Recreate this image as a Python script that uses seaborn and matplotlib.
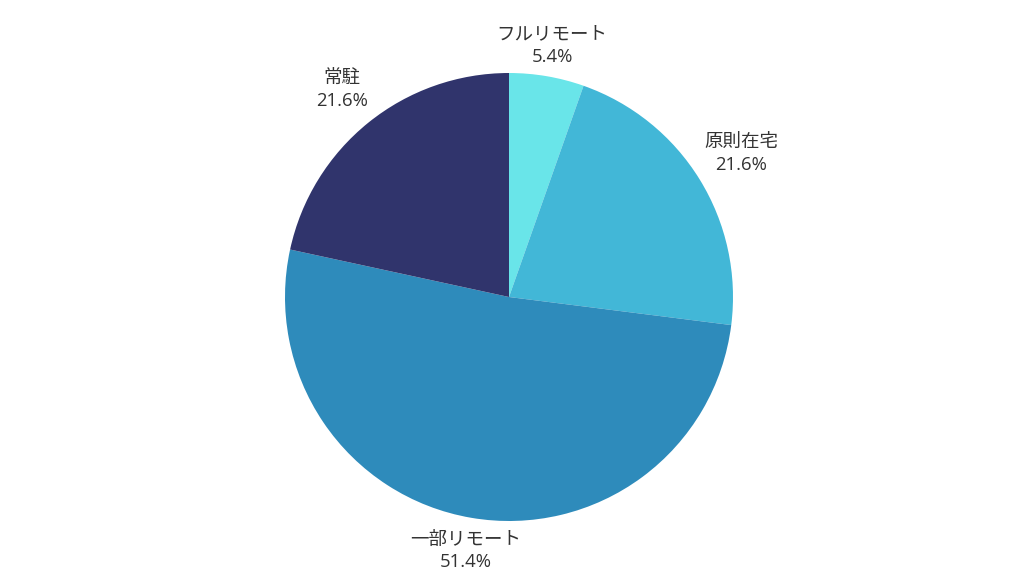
import numpy as np
import matplotlib
matplotlib.use("Agg")
import matplotlib.pyplot as plt
import seaborn as sns

# data
labels = ["フルリモート", "原則在宅", "一部リモート", "常駐"]
shares = [5.4, 21.6, 51.4, 21.6]
colors = ["#69e5e9", "#42b7d7", "#2e8bbb", "#30346c"]
label_dist = [1.14, 1.22, 1.15, 1.19]

sns.set_theme(style="white")
plt.rcParams["font.family"] = ["Open Sans", "Noto Sans CJK JP", "DejaVu Sans"]

fig = plt.figure(figsize=(10.24, 5.76), dpi=100)
ax = fig.add_axes([0, 0, 1, 1])

wedges, _ = ax.pie(
    shares,
    colors=colors,
    startangle=90,
    counterclock=False,
    radius=1.0,
    wedgeprops={"linewidth": 0},
)

# two-line labels outside each slice, centred on the slice's mid angle
for w, name, pct, d in zip(wedges, labels, shares, label_dist):
    mid = np.deg2rad((w.theta1 + w.theta2) / 2)
    ax.text(d * np.cos(mid), d * np.sin(mid), f"{name}\n{pct:.1f}%",
            ha="center", va="center", fontsize=13.3, color="#333333",
            linespacing=1.33)

# pie centre at (509, 297) px, radius 224 px
r_px = 224
ax.set_xlim(-509 / r_px, (1024 - 509) / r_px)
ax.set_ylim(-(576 - 297) / r_px, 297 / r_px)
ax.set_aspect("equal")
ax.axis("off")

fig.savefig("out.png", dpi=100, facecolor="white")
